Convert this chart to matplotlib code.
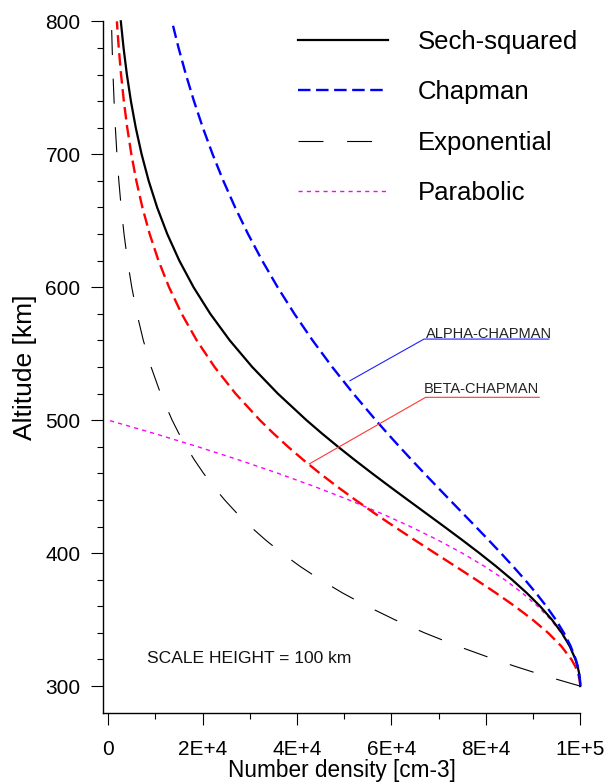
import matplotlib
matplotlib.use("Agg")
import matplotlib.pyplot as plt
from matplotlib.lines import Line2D
from matplotlib.ticker import FixedLocator, FixedFormatter

plt.rcParams['font.family'] = ['Liberation Sans', 'DejaVu Sans']
plt.rcParams['lines.scale_dashes'] = False

# ---- data ----
altitude = [300, 302, 305, 310, 315, 320, 330, 340, 350, 360, 370, 380, 390, 400,
            410, 420, 430, 440, 450, 460, 470, 480, 490, 500, 520, 540, 560, 580,
            600, 620, 640, 660, 680, 700, 720, 740, 760, 780, 800]

sech_squared = [100000, 99990, 99938, 99750, 99440, 99007, 97783, 96104, 94002, 91514,
                88685, 85564, 82200, 78645, 74948, 71158, 67319, 63474, 59659, 55906,
                52242, 48692, 45272, 41997, 35920, 30502, 25743, 21615, 18071, 15053,
                12501, 10356, 8561, 7065, 5822, 4793, 3941, 3238, 2659]

alpha_chapman = [100000, 99990, 99939, 99758, 99466, 99068, 97980, 96545, 94813, 92830,
                 90638, 88279, 85789, 83199, 80539, 77834, 75106, 72376, 69659, 66969,
                 64317, 61715, 59168, 56685, 51923, 47456, 43295, 39439, 35883, 32616,
                 29621, 26883, 24385, 22110, 20039, 18157, 16447, 14896, 13488]

beta_chapman = [100000, 99980, 99878, 99517, 98935, 98144, 96000, 93210, 89895, 86173,
                82153, 77933, 73597, 69220, 64864, 60580, 56409, 52382, 48522, 44847,
                41366, 38086, 35008, 32131, 26959, 22521, 18744, 15554, 12876, 10638,
                8775, 7228, 5947, 4889, 4016, 3297, 2705, 2219, 1819]

exponential = [100000, 98020, 95123, 90484, 86071, 81873, 74082, 67032, 60653, 54881,
               49659, 44933, 40657, 36788, 33287, 30119, 27253, 24660, 22313, 20190,
               18268, 16530, 14957, 13534, 11080, 9072, 7427, 6081, 4979, 4076,
               3337, 2732, 2237, 1832, 1500, 1228, 1005, 823, 674]

parabolic_altitude = altitude[:24]
parabolic = [100000, 99990, 99938, 99750, 99438, 99000, 97750, 96000, 93750, 91000,
             87750, 84000, 79750, 75000, 69750, 64000, 57750, 51000, 43750, 36000,
             27750, 19000, 9750, 0]

legend_labels = ["Sech-squared", "Chapman", "Exponential", "Parabolic"]
x_tick_values = [0, 20000, 40000, 60000, 80000, 100000]
x_tick_labels = ["0", "2E+4", "4E+4", "6E+4", "8E+4", "1E+5"]
x_minor_values = [10000, 30000, 50000, 70000, 90000]
y_tick_values = [300, 400, 500, 600, 700, 800]
y_tick_labels = ["300", "400", "500", "600", "700", "800"]

# ---- styles ----
c_sech = 'black'
c_alpha = '#0000ff'
c_beta = '#ff0000'
c_exp = 'black'
c_par = '#ff00ff'
dash_chap = (9, 4)
dash_exp = (18, 17)
dash_par = (3, 3)

fig = plt.figure(figsize=(6.06, 7.84), dpi=100)
ax = fig.add_axes([0.1705, 0.0910, 0.7869, 0.8818])

ax.plot(exponential, altitude, color=c_exp, lw=0.8, dashes=dash_exp, clip_on=False)
ax.plot(parabolic, parabolic_altitude, color=c_par, lw=1.0, dashes=dash_par, clip_on=False)
ax.plot(beta_chapman, altitude, color=c_beta, lw=1.7, dashes=dash_chap, clip_on=False)
ax.plot(sech_squared, altitude, color=c_sech, lw=1.6, clip_on=False)
ax.plot(alpha_chapman, altitude, color=c_alpha, lw=1.7, dashes=dash_chap, clip_on=False)

ax.set_xlim(-1050, 100000)
ax.set_ylim(280, 800)

for s in ['top', 'right']:
    ax.spines[s].set_visible(False)
for s in ['left', 'bottom']:
    ax.spines[s].set_linewidth(1.0)

ax.xaxis.set_major_locator(FixedLocator(x_tick_values))
ax.xaxis.set_major_formatter(FixedFormatter(x_tick_labels))
ax.xaxis.set_minor_locator(FixedLocator(x_minor_values))
ax.yaxis.set_major_locator(FixedLocator(y_tick_values))
ax.yaxis.set_major_formatter(FixedFormatter(y_tick_labels))
ax.yaxis.set_minor_locator(FixedLocator([v for v in range(320, 800, 20) if v % 100]))

ax.tick_params(which='major', direction='out', length=8.5, width=0.8, labelsize=15)
ax.tick_params(which='minor', direction='out', length=4.3, width=0.8)
ax.tick_params(axis='x', which='major', pad=11.5)
ax.tick_params(axis='y', which='major', pad=7.9)

ax.set_xlabel("Number density [cm-3]", fontsize=16.3)
ax.set_ylabel("Altitude [km]", fontsize=19)
ax.xaxis.set_label_coords(0.5, -0.0665)
ax.yaxis.set_label_coords(-0.1397, 0.5)

handles = [
    Line2D([], [], color=c_sech, lw=1.6),
    Line2D([], [], color=c_alpha, lw=1.7, dashes=dash_chap),
    Line2D([], [], color=c_exp, lw=0.8, dashes=dash_exp),
    Line2D([], [], color=c_par, lw=1.0, dashes=dash_par),
]
ax.legend(handles, legend_labels, loc='upper left', bbox_to_anchor=(0.4083, 0.9872),
          frameon=False, fontsize=18.5, handlelength=3.5, handletextpad=1.17,
          labelspacing=1.02, borderpad=0, borderaxespad=0)

# annotations
ax.plot([51220, 66900, 93380], [529.7, 561.0, 561.0], color='#2020ff', lw=0.8)
ax.text(67320, 561.8, "ALPHA-CHAPMAN", fontsize=10.5, va='baseline', ha='left', color='#222222')
ax.plot([42590, 67260, 91330], [467.1, 517.2, 517.2], color='#ff3535', lw=0.8)
ax.text(66750, 520.5, "BETA-CHAPMAN", fontsize=10.5, va='baseline', ha='left', color='#222222')
ax.text(8100, 317.6, "SCALE HEIGHT = 100 km", fontsize=12.6, va='baseline', ha='left', color='#111111')

fig.savefig("out.png", dpi=100)
